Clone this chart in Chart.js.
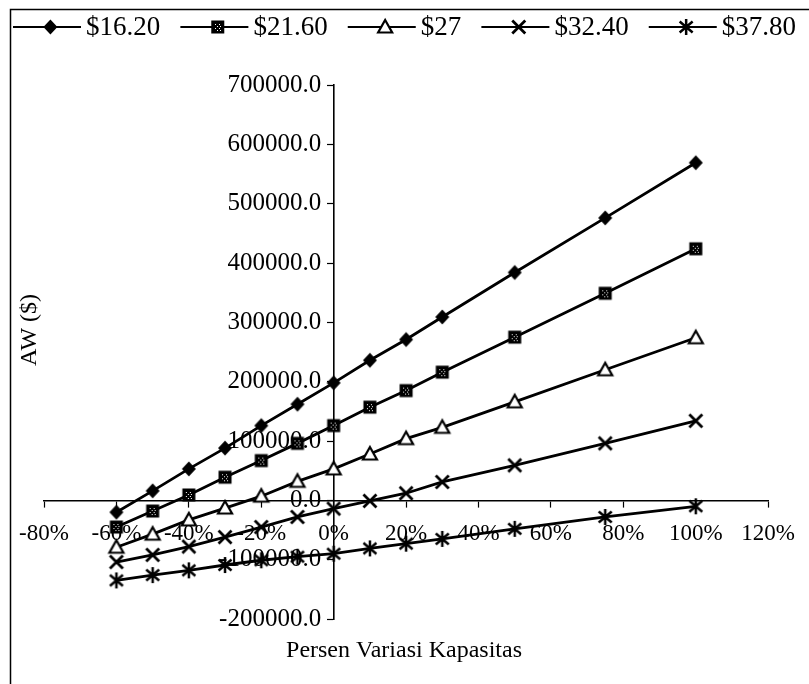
<!DOCTYPE html>
<html>
<head>
<meta charset="utf-8">
<script src="https://cdn.jsdelivr.net/npm/chart.js@4.4.1/dist/chart.umd.min.js"></script>
<style>
  html, body { margin: 0; padding: 0; background: #fff; }
  #wrap { width: 809px; height: 684px; }
</style>
</head>
<body>
<div id="wrap"><canvas id="chart" width="809" height="684"></canvas></div>
<script>
// Capacity variation (%) on the x axis
const capacityChange = [-60, -50, -40, -30, -20, -10, 0, 10, 20, 30, 50, 75, 100];

// Selling-price scenarios (legend labels)
const priceLabels = ['$16.20', '$21.60', '$27', '$32.40', '$37.80'];

// Annual worth (AW, $) for each price scenario
const awPrice1620 = [-20000, 16000, 53000, 88000, 126000, 162000, 198000, 236000, 271000, 309000, 384000, 476000, 569000];
const awPrice2160 = [-45000, -18000, 9000, 39000, 67000, 96000, 126000, 157000, 185000, 216000, 275000, 349000, 424000];
const awPrice2700 = [-79000, -57000, -33000, -13000, 7000, 32000, 53000, 78000, 104000, 123000, 166000, 220000, 274000];
const awPrice3240 = [-104000, -92000, -78000, -62000, -45000, -28000, -14000, -1000, 12000, 31000, 59000, 96000, 134000];
const awPrice3780 = [-135000, -126000, -118000, -109000, -101000, -95000, -90000, -81000, -73000, -65000, -48000, -28000, -10000];

// Axis ranges / tick steps
const xTickMin = -80, xTickMax = 120, xTickStep = 20;
const yTickMin = -200000, yTickMax = 700000, yTickStep = 100000;

const axisTitleX = 'Persen Variasi Kapasitas';
const axisTitleY = 'AW ($)';

const FONT = "'Liberation Serif', 'Times New Roman', serif";
const markerKinds = ['diamond', 'square', 'triangle', 'cross', 'star'];
const seriesValues = [awPrice1620, awPrice2160, awPrice2700, awPrice3240, awPrice3780];

// ---- marker drawing -------------------------------------------------------
function drawMarker(g, kind, cx, cy) {
  g.save();
  g.strokeStyle = '#000';
  g.fillStyle = '#000';
  g.lineCap = 'butt';
  switch (kind) {
    case 'diamond':
      g.beginPath();
      g.moveTo(cx, cy - 7.5);
      g.lineTo(cx + 7, cy);
      g.lineTo(cx, cy + 7.5);
      g.lineTo(cx - 7, cy);
      g.closePath();
      g.fill();
      break;
    case 'square': {
      g.fillRect(cx - 6.5, cy - 6.5, 13, 13);
      g.fillStyle = '#fff';
      const dots = [[-3, -3], [1, -3], [-1, -1], [2, -1], [-3, 1], [1, 1], [-1, 3], [2, 3]];
      dots.forEach(([dx, dy]) => g.fillRect(Math.round(cx + dx), Math.round(cy + dy), 1, 1));
      break;
    }
    case 'triangle':
      g.beginPath();
      g.moveTo(cx, cy - 7);
      g.lineTo(cx + 7, cy + 5.5);
      g.lineTo(cx - 7, cy + 5.5);
      g.closePath();
      g.fillStyle = '#fff';
      g.fill();
      g.lineWidth = 2.2;
      g.stroke();
      break;
    case 'cross':
      g.lineWidth = 2.8;
      g.beginPath();
      g.moveTo(cx - 6.5, cy - 6.5); g.lineTo(cx + 6.5, cy + 6.5);
      g.moveTo(cx + 6.5, cy - 6.5); g.lineTo(cx - 6.5, cy + 6.5);
      g.stroke();
      break;
    case 'star':
      g.lineWidth = 2.5;
      g.beginPath();
      g.moveTo(cx - 6.5, cy - 5.5); g.lineTo(cx + 6.5, cy + 5.5);
      g.moveTo(cx + 6.5, cy - 5.5); g.lineTo(cx - 6.5, cy + 5.5);
      g.moveTo(cx, cy - 8); g.lineTo(cx, cy + 8);
      g.stroke();
      break;
  }
  g.restore();
}

function markerCanvas(kind) {
  const c = document.createElement('canvas');
  c.width = 20; c.height = 20;
  drawMarker(c.getContext('2d'), kind, 10, 10);
  return c;
}

// ---- datasets -------------------------------------------------------------
const datasets = priceLabels.map((label, i) => ({
  label,
  data: capacityChange.map((x, j) => ({ x, y: seriesValues[i][j] })),
  showLine: true,
  borderColor: '#000',
  backgroundColor: '#000',
  borderWidth: 2.8,
  tension: 0,
  pointStyle: markerCanvas(markerKinds[i]),
  pointRadius: 7,
  pointHoverRadius: 7,
  markerKind: markerKinds[i]
}));

// ---- frame, legend row and axis titles ------------------------------------
const decorations = {
  id: 'decorations',
  beforeDraw(chart) {
    const g = chart.ctx;
    g.save();
    g.fillStyle = '#fff';
    g.fillRect(0, 0, chart.width, chart.height);
    g.strokeStyle = '#000';
    g.lineWidth = 1.5;
    g.beginPath();
    g.moveTo(10.5, chart.height + 5);
    g.lineTo(10.5, 9.5);
    g.lineTo(chart.width + 5, 9.5);
    g.stroke();
    g.restore();
  },
  afterDraw(chart) {
    const g = chart.ctx;
    g.save();
    g.fillStyle = '#000';

    // legend row
    g.font = '27px ' + FONT;
    g.textBaseline = 'middle';
    g.textAlign = 'left';
    const symbolW = 68, symbolGap = 5, rowLeft = 13, rowRight = 796, rowY = 27;
    const items = chart.data.datasets.map(ds => ({
      ds, textW: g.measureText(ds.label).width
    }));
    const used = items.reduce((s, it) => s + symbolW + symbolGap + it.textW, 0);
    const gap = (rowRight - rowLeft - used) / (items.length - 1);
    let x = rowLeft;
    items.forEach(it => {
      g.strokeStyle = '#000';
      g.lineWidth = 2.2;
      g.beginPath();
      g.moveTo(x, rowY);
      g.lineTo(x + symbolW, rowY);
      g.stroke();
      drawMarker(g, it.ds.markerKind, x + symbolW * 0.55, rowY);
      g.fillText(it.ds.label, x + symbolW + symbolGap, rowY + 1);
      x += symbolW + symbolGap + it.textW + gap;
    });

    // axis titles
    g.font = '24px ' + FONT;
    g.textAlign = 'center';
    g.textBaseline = 'middle';
    g.fillText(axisTitleX, 404, 651);
    g.translate(30, 330);
    g.rotate(-Math.PI / 2);
    g.fillText(axisTitleY, 0, 0);
    g.restore();
  }
};

new Chart(document.getElementById('chart'), {
  type: 'scatter',
  data: { datasets },
  options: {
    responsive: false,
    animation: false,
    devicePixelRatio: 1,
    layout: { padding: { left: 44, right: 26, top: 85, bottom: 65 } },
    plugins: {
      legend: { display: false },
      tooltip: { enabled: false }
    },
    scales: {
      x: {
        type: 'linear',
        min: xTickMin,
        max: xTickMax,
        position: { y: 0 },
        ticks: {
          stepSize: xTickStep,
          autoSkip: false,
          maxRotation: 0,
          color: '#000',
          font: { family: FONT, size: 23 },
          padding: 14,
          callback: v => v + '%'
        },
        grid: { drawOnChartArea: false, drawTicks: true, tickLength: 6, color: '#000', tickWidth: 1.2 },
        border: { color: '#000', width: 1.6 }
      },
      y: {
        type: 'linear',
        min: yTickMin,
        max: yTickMax,
        position: { x: 0 },
        ticks: {
          stepSize: yTickStep,
          autoSkip: false,
          color: '#000',
          font: { family: FONT, size: 25 },
          // two trailing spaces keep the labels clear of the axis
          callback: v => Number(v).toFixed(1) + '  '
        },
        grid: { drawOnChartArea: false, drawTicks: true, tickLength: 6, color: '#000', tickWidth: 1.2 },
        border: { color: '#000', width: 1.6 }
      }
    }
  },
  plugins: [decorations]
});
</script>
</body>
</html>
